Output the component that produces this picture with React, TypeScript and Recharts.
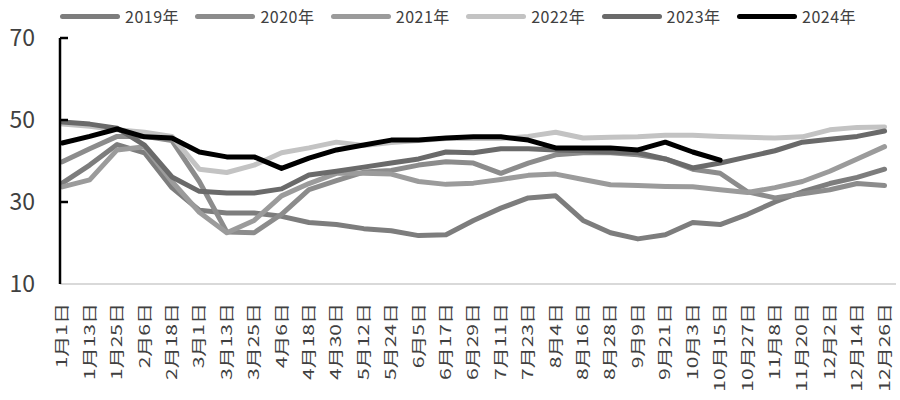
import React from "react";
import { LineChart, Line, XAxis, YAxis } from "recharts";

const DAYS = [0, 12, 24, 36, 48, 60, 72, 84, 96, 108, 120, 132, 144, 156, 168, 180, 192, 204, 216, 228, 240, 252, 264, 276, 288, 300, 312, 324, 336, 348, 360];
const TICK_LABELS = ["1月1日", "1月13日", "1月25日", "2月6日", "2月18日", "3月1日", "3月13日", "3月25日", "4月6日", "4月18日", "4月30日", "5月12日", "5月24日", "6月5日", "6月17日", "6月29日", "7月11日", "7月23日", "8月4日", "8月16日", "8月28日", "9月9日", "9月21日", "10月3日", "10月15日", "10月27日", "11月8日", "11月20日", "12月2日", "12月14日", "12月26日"];
const Y_TICKS = [10, 30, 50, 70];

const Y2019 = [34.6, 39, 44, 42, 33.5, 28, 27.3, 27.3, 26.5, 25, 24.5, 23.5, 23, 21.8, 22, 25.5, 28.5, 31, 31.5, 25.5, 22.5, 21, 22, 25, 24.5, 27, 30, 32.5, 34.5, 36, 38];
const Y2020 = [39.8, 43, 46, 46, 45, 35, 22.7, 22.5, 27, 33, 35.2, 37.3, 37.7, 39, 39.8, 39.5, 37, 39.5, 41.5, 42, 42, 41.5, 40.5, 38, 37, 32.5, 31, 32, 33, 34.5, 34];
const Y2021 = [33.7, 35.4, 42.7, 43.5, 35, 27.5, 22.5, 25.5, 31.5, 34.5, 37, 37, 36.8, 35, 34.3, 34.6, 35.5, 36.5, 36.8, 35.5, 34.2, 34, 33.8, 33.7, 33, 32.3, 33.5, 35, 37.5, 40.5, 43.5];
const Y2022 = [49, 48.5, 47.6, 47, 46, 38, 37.2, 39, 42, 43.2, 44.6, 43.8, 44.5, 45, 45.5, 45.5, 45.5, 46, 47, 45.6, 45.8, 45.9, 46.3, 46.3, 46, 45.8, 45.6, 45.9, 47.6, 48.2, 48.3];
const Y2023 = [49.5, 49, 48, 43.9, 36.1, 32.6, 32.2, 32.2, 33.2, 36.6, 37.5, 38.5, 39.5, 40.5, 42.2, 42, 43, 43, 42.7, 42.5, 42.2, 42, 40.5, 38.3, 39.5, 41, 42.5, 44.6, 45.3, 46, 47.3];
const Y2024 = [44.4, 46, 47.8, 45.9, 45.6, 42.2, 41, 41, 38.2, 40.7, 42.7, 43.9, 45.1, 45.1, 45.6, 45.9, 45.9, 45.1, 43.2, 43.2, 43.2, 42.7, 44.6, 42.2, 40.2, null, null, null, null, null, null];

const SERIES = [
  { key: "y2019", name: "2019年", values: Y2019, color: "#7d7d7d" },
  { key: "y2020", name: "2020年", values: Y2020, color: "#8c8c8c" },
  { key: "y2021", name: "2021年", values: Y2021, color: "#9b9b9b" },
  { key: "y2022", name: "2022年", values: Y2022, color: "#c3c3c3" },
  { key: "y2023", name: "2023年", values: Y2023, color: "#6a6a6a" },
  { key: "y2024", name: "2024年", values: Y2024, color: "#000000" },
];

const data = DAYS.map((d, i) => {
  const row: Record<string, number | null> = { day: d };
  SERIES.forEach((s) => {
    row[s.key] = s.values[i];
  });
  return row;
});

const FONT = '"Noto Sans CJK SC", "Noto Sans", sans-serif';

const XTick = (props: any) => {
  const { x, y, payload } = props;
  const idx = DAYS.indexOf(payload.value);
  const label = idx >= 0 ? TICK_LABELS[idx] : "";
  return (
    <g transform={`translate(${x},${y + 19})`}>
      <text
        transform="rotate(-90) scale(1.45,1)"
        textAnchor="end"
        dy={5}
        fontSize={14.5}
        fill="#404040"
        fontFamily={FONT}
      >
        {label}
      </text>
    </g>
  );
};

const YTick = (props: any) => {
  const { x, y, payload } = props;
  return (
    <g>
      {payload.value !== 10 && (
        <line x1={x} x2={x + 8} y1={y} y2={y} stroke="#000" strokeWidth={2.5} />
      )}
      <text x={35} y={y} dy={8} textAnchor="end" fontSize={23} fill="#404040" fontFamily={FONT}>
        {payload.value}
      </text>
    </g>
  );
};

const LegendBar = () => (
  <div style={{ position: "absolute", left: 0, top: 0, width: 900, height: 32 }}>
    {SERIES.map((s, i) => (
      <div
        key={s.key}
        style={{
          position: "absolute",
          left: 60 + i * 135.4,
          top: 4,
          height: 24,
          display: "flex",
          alignItems: "center",
        }}
      >
        <div style={{ width: 60, height: 5, borderRadius: 3, background: s.color }} />
        <span
          style={{
            marginLeft: 5,
            fontSize: 16,
            color: "#404040",
            fontFamily: FONT,
            letterSpacing: 0.5,
            lineHeight: "24px",
          }}
        >
          {s.name}
        </span>
      </div>
    ))}
  </div>
);

export default function App() {
  return (
    <div style={{ position: "absolute", left: 0, top: 0, width: 900, height: 400, background: "#fff" }}>
      <LineChart
        width={900}
        height={400}
        data={data}
        margin={{ top: 38, right: 4, bottom: 0, left: 0 }}
      >
        <XAxis
          dataKey="day"
          type="number"
          domain={[-1, 365]}
          ticks={DAYS}
          interval={0}
          tick={<XTick />}
          tickLine={false}
          tickSize={0}
          tickMargin={0}
          height={116}
          axisLine={{ stroke: "#d9d9d9", strokeWidth: 2 }}
        />
        <YAxis
          domain={[10, 70]}
          ticks={Y_TICKS}
          interval={0}
          width={60}
          tick={<YTick />}
          tickLine={false}
          tickSize={0}
          tickMargin={0}
          axisLine={{ stroke: "#000", strokeWidth: 2.5 }}
        />
        {SERIES.map((s) => (
          <Line
            key={s.key}
            dataKey={s.key}
            name={s.name}
            stroke={s.color}
            strokeWidth={5}
            dot={false}
            activeDot={false}
            type="linear"
            strokeLinejoin="round"
            strokeLinecap="round"
            isAnimationActive={false}
            connectNulls={false}
          />
        ))}
      </LineChart>
      <LegendBar />
    </div>
  );
}
